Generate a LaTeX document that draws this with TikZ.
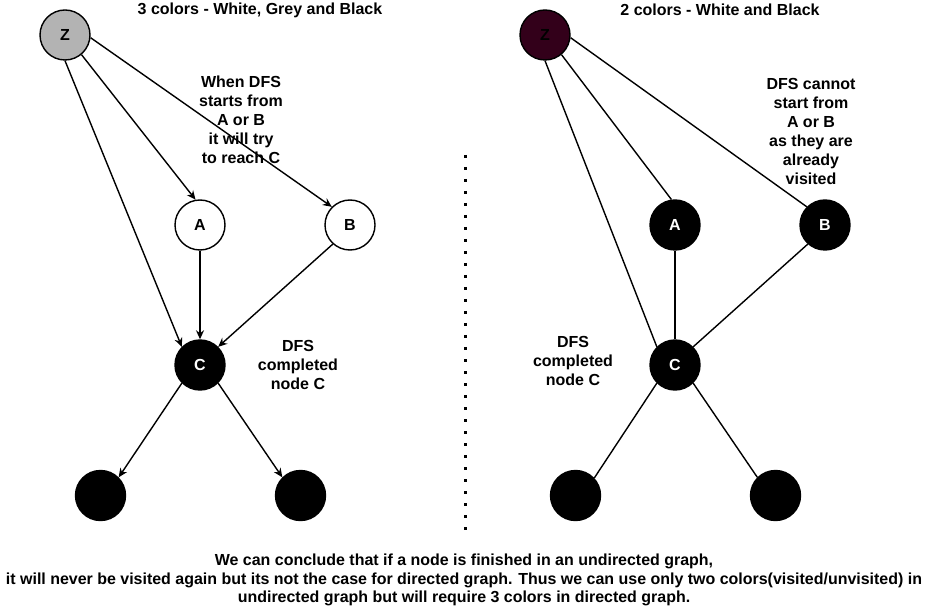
\documentclass[tikz,border=0pt]{standalone}
\usepackage{fontspec}
\setmainfont{Liberation Sans}
\usetikzlibrary{arrows.meta}
\definecolor{zgrey}{RGB}{179,179,179}
\definecolor{zmaroon}{RGB}{51,0,26}
\begin{document}
\begin{tikzpicture}[x=1pt,y=-1pt,
  every node/.style={font=\fontsize{16}{19}\selectfont\bfseries},
  vtx/.style={circle, draw=black, line width=1.4pt, minimum size=50pt, inner sep=0pt},
  wnode/.style={vtx, fill=white},
  bnode/.style={vtx, fill=black, text=white},
  lbl/.style={align=center, inner sep=0pt},
  arr/.style={-{Stealth[length=9pt,width=8pt]}, line width=1.4pt},
  lnk/.style={line width=1.4pt}
]
\useasboundingbox (0,0) rectangle (931,609);
\fill[white] (0,0) rectangle (931,609);

% titles
\node[lbl] (t1) at (260,10) {3 colors - White, Grey and Black};
\node[lbl] (t2) at (720,10) {2 colors - White and Black};

% left graph
\node[vtx, fill=zgrey] (Zl) at (65,35) {Z};
\node[wnode] (Al) at (200,225) {A};
\node[wnode] (Bl) at (350,225) {B};
\node[bnode] (Cl) at (200,365) {C};
\node[bnode] (Dl) at (100.5,495.5) {};
\node[bnode] (El) at (300.5,495.5) {};

\draw[arr] (Zl.-50) -- (Al.100);
\draw[arr] (Zl.-6) -- (Bl.135);
\draw[arr] (Zl.-90) -- (Cl.135);
\draw[arr] (Al) -- (Cl);
\draw[arr] (Bl.228) -- (Cl.45);
\draw[arr] (Cl.225) -- (Dl.45);
\draw[arr] (Cl.-45) -- (El.135);

% right graph
\node[vtx, fill=zmaroon, text=black] (Zr) at (545,35) {Z};
\node[bnode] (Ar) at (675,225) {A};
\node[bnode] (Br) at (825,225) {B};
\node[bnode] (Cr) at (675,365) {C};
\node[bnode] (Dr) at (575.5,495.5) {};
\node[bnode] (Er) at (775.5,495.5) {};

\draw[lnk] (Zr.-50) -- (Ar.98);
\draw[lnk] (Zr.-6) -- (Br.135);
\draw[lnk] (Zr.-90) -- (Cr.135);
\draw[lnk] (Ar) -- (Cr);
\draw[lnk] (Br.228) -- (Cr.45);
\draw[lnk] (Cr.225) -- (Dr.43);
\draw[lnk] (Cr.-45) -- (Er.135);

% annotations
\node[lbl] (n1) at (241,120) {When DFS\\starts from\\A or B\\it will try\\to reach C};
\node[lbl] (n2) at (298,365) {DFS\\completed\\node C};
\node[lbl] (n3) at (811,131) {DFS cannot\\start from\\A or B\\as they are\\already\\visited};
\node[lbl] (n4) at (573,361) {DFS\\completed\\node C};

% separator
\coordinate (dtop) at (465.5,155);
\coordinate (dbot) at (465.5,531);
\draw[line width=2.6pt, dash pattern=on 2.6pt off 9.4pt] (dtop) -- (dbot);

% conclusion
\node[inner sep=0pt] (concl) at (464,580.5) {\resizebox{916pt}{\height}{\fontsize{16}{18.5}\selectfont\bfseries\begin{tabular}{@{}c@{}}We can conclude that if a node is finished in an undirected graph,\\it will never be visited again but its not the case for directed graph. Thus we can use only two colors(visited/unvisited) in\\undirected graph but will require 3 colors in directed graph.\end{tabular}}};
\end{tikzpicture}
\end{document}
